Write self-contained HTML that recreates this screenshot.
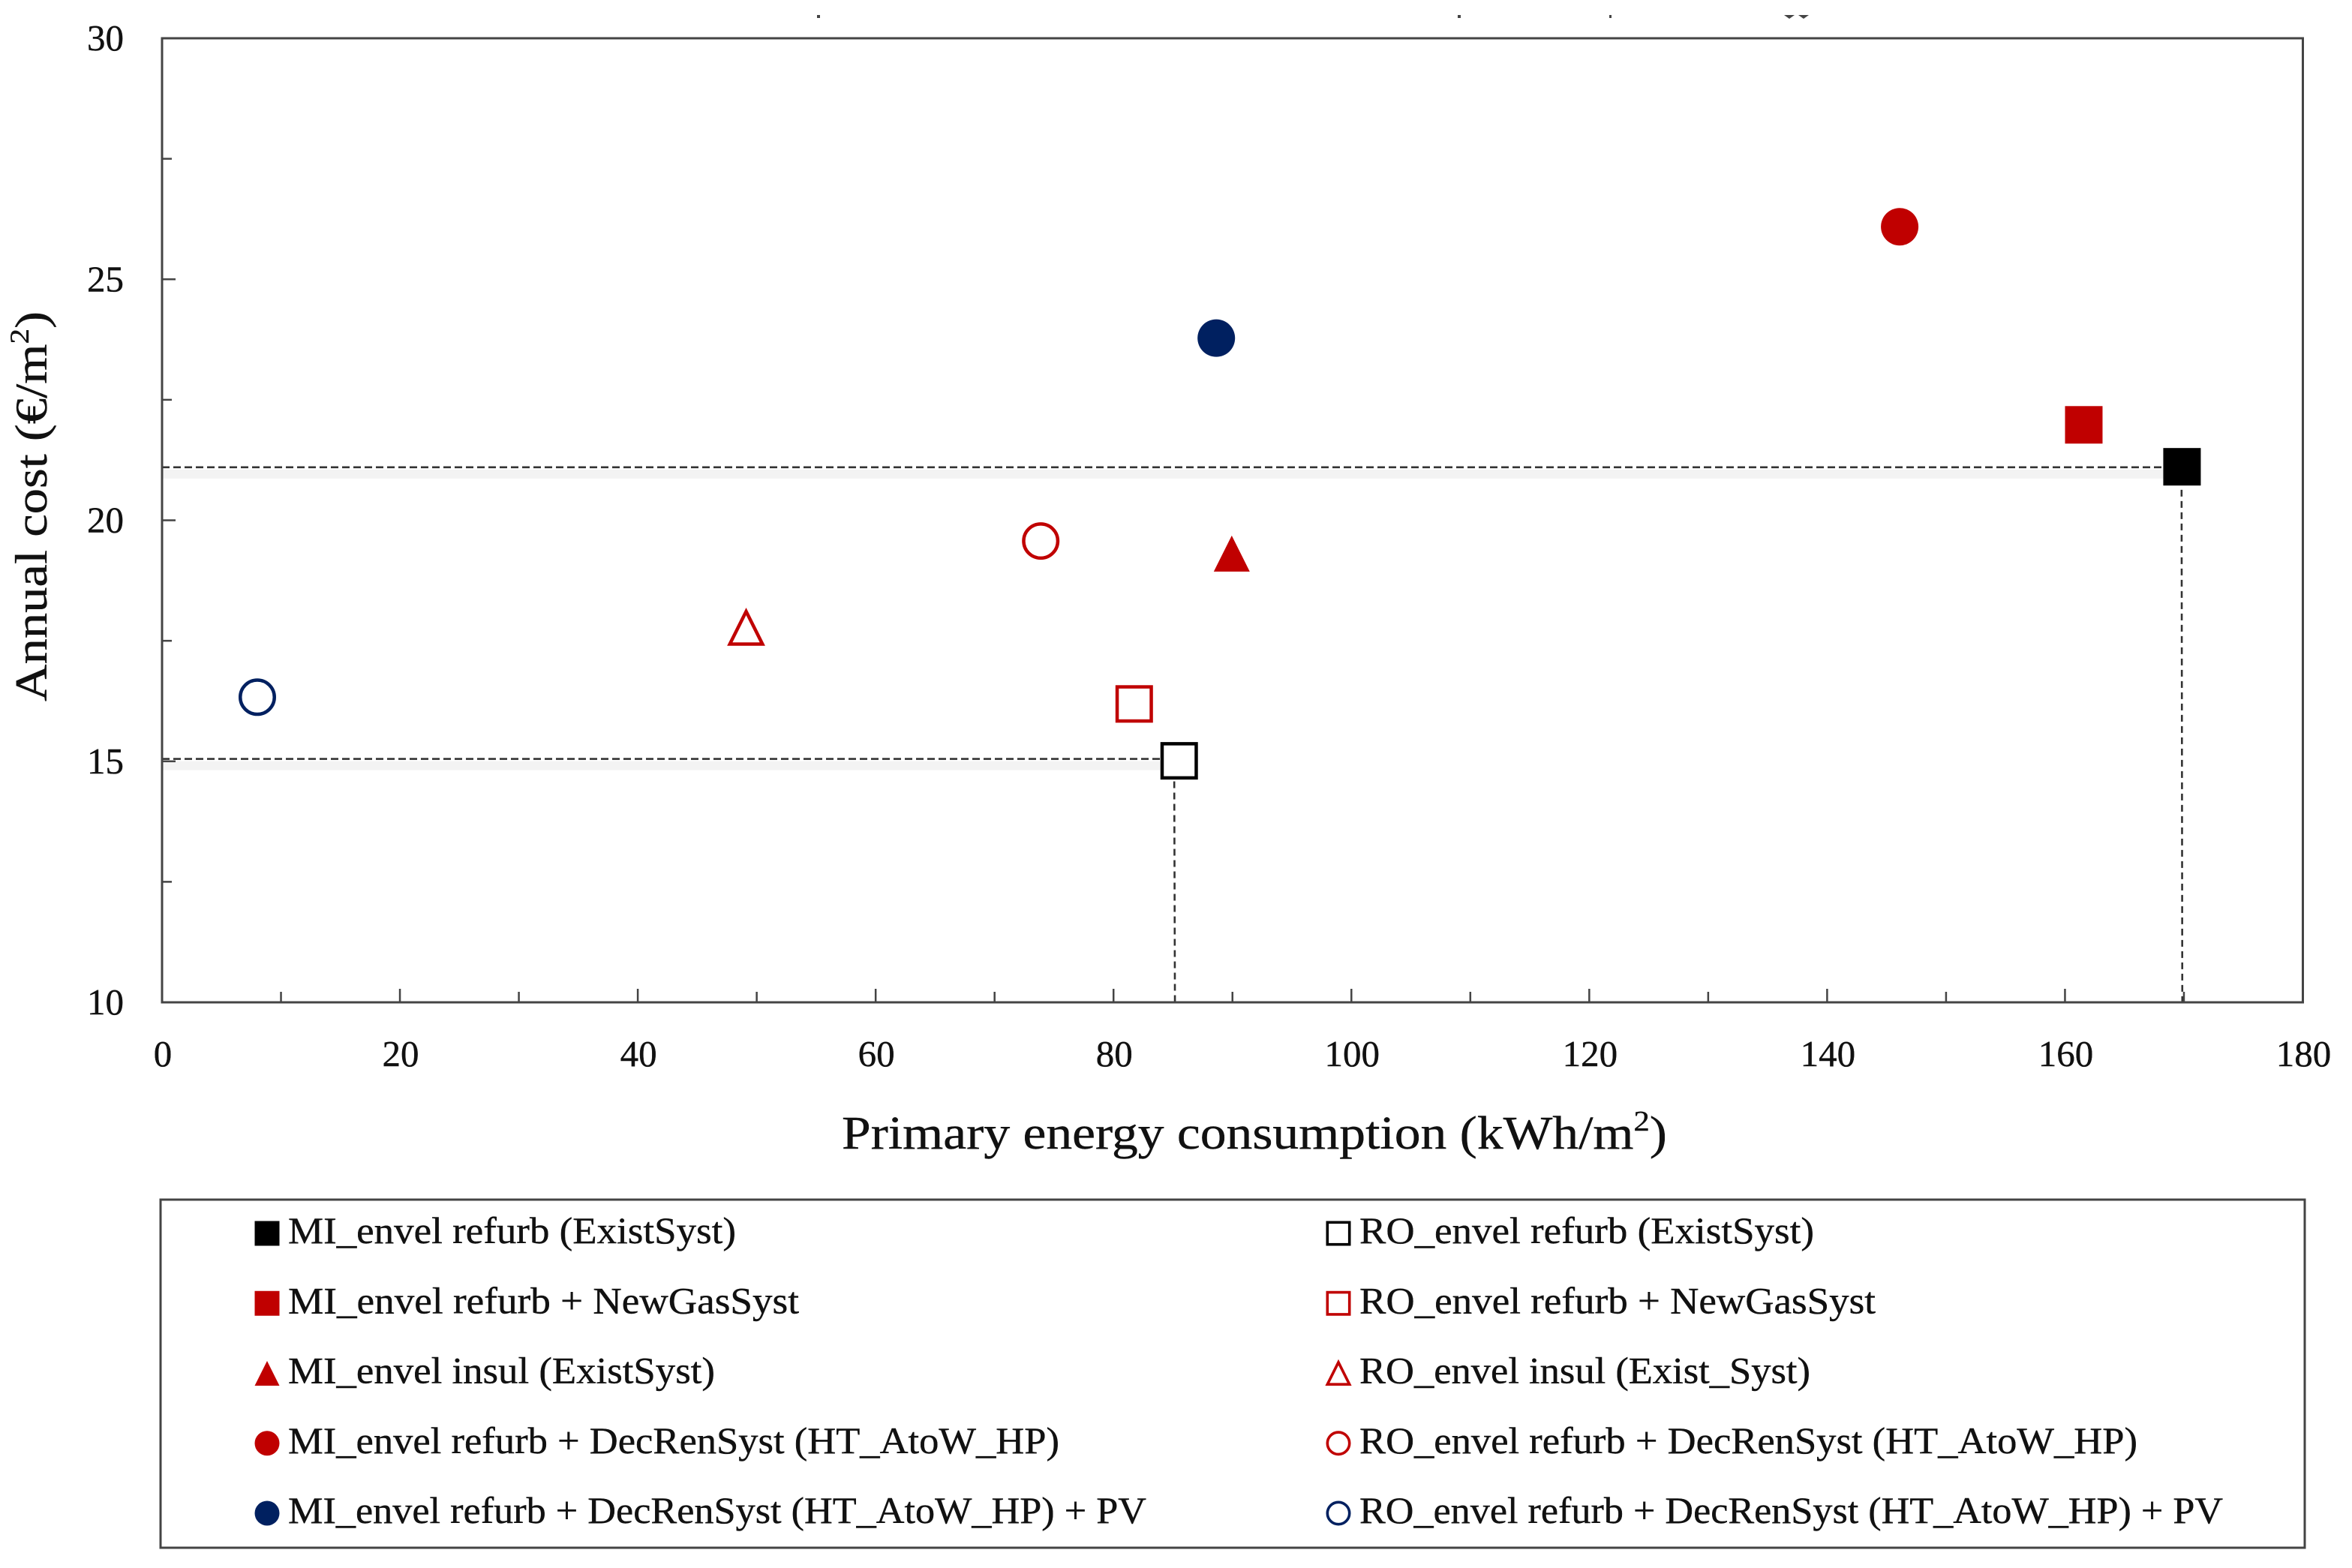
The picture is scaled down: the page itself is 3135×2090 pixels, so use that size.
<!DOCTYPE html>
<html lang="en">
<head>
<meta charset="utf-8">
<title>Annual cost vs primary energy consumption</title>
<style>
html,body{margin:0;padding:0;background:#fff;width:3135px;height:2090px;overflow:hidden}
svg{display:block}
text{font-family:"Liberation Serif","DejaVu Serif",serif;fill:#111;stroke:#111;stroke-width:0.4}
</style>
</head>
<body>
<svg id="chart" xmlns="http://www.w3.org/2000/svg" width="3135" height="2090" viewBox="0 0 3135 2090">
  <rect x="0" y="0" width="3135" height="2090" fill="#fff"/>
  <g fill="#444">
    <rect x="1089" y="20" width="4" height="4"/>
    <rect x="1943" y="20" width="4" height="4"/>
    <rect x="2145" y="20" width="3" height="4"/>
    <polygon points="2378,20 2392,20 2385,25"/>
    <polygon points="2397,20 2411,20 2404,25"/>
  </g>
  <g id="ref-lines"></g>
  <rect x="216" y="51" width="2853.5" height="1285" fill="none" stroke="#444" stroke-width="3"/>
  <g id="x-axis"></g>
  <g id="y-axis"></g>
  <g id="points"></g>
  <text x="1122" y="1531" font-size="62" textLength="1100" lengthAdjust="spacingAndGlyphs">Primary energy consumption (kWh/m<tspan font-size="38" dy="-24">2</tspan><tspan dy="24">)</tspan></text>
  <text transform="translate(62 935) rotate(-90)" x="0" y="0" font-size="60" textLength="520" lengthAdjust="spacingAndGlyphs">Annual cost (€/m<tspan font-size="36" dy="-24">2</tspan><tspan dy="24">)</tspan></text>
  <g id="legend">
    <rect x="214" y="1599" width="2858" height="464" fill="none" stroke="#444" stroke-width="3"/>
  </g>
</svg>
<script>
// Chart data
const seriesNames = [
  "MI_envel refurb (ExistSyst)",
  "MI_envel refurb + NewGasSyst",
  "MI_envel insul (ExistSyst)",
  "MI_envel refurb + DecRenSyst (HT_AtoW_HP)",
  "MI_envel refurb + DecRenSyst (HT_AtoW_HP) + PV",
  "RO_envel refurb (ExistSyst)",
  "RO_envel refurb + NewGasSyst",
  "RO_envel insul (Exist_Syst)",
  "RO_envel refurb + DecRenSyst (HT_AtoW_HP)",
  "RO_envel refurb + DecRenSyst (HT_AtoW_HP) + PV"
];
const energyValues = [169.84, 161.58, 89.94, 146.1, 88.64, 85.52, 81.74, 49.11, 73.88, 8.01];
const costValues = [21.11, 21.98, 19.31, 26.09, 23.78, 15.01, 16.19, 17.77, 19.57, 16.33];
const refEnergyValues = [169.8, 85.1];
const refCostValues = [21.1, 15.05];
const xTickLabels = [0, 20, 40, 60, 80, 100, 120, 140, 160, 180];
const xMinorTicks = [10, 30, 50, 70, 90, 110, 130, 150, 170];
const yTickLabels = [10, 15, 20, 25, 30];
const yMinorTicks = [12.5, 17.5, 22.5, 27.5];

// Presentation, kept apart from the data
const seriesShapes = ["square", "square", "triangle", "circle", "circle", "square", "square", "triangle", "circle", "circle"];
const seriesColors = ["#000000", "#c00000", "#c00000", "#c00000", "#002060", "#000000", "#c00000", "#c00000", "#c00000", "#002060"];
const seriesFilled = [true, true, true, true, true, false, false, false, false, false];
const legendTextWidths = [597, 681, 569, 1028, 1144, 606, 688, 601, 1037, 1151];

const SVGNS = "http://www.w3.org/2000/svg";
const plot = { left: 216, right: 3069.5, top: 51, bottom: 1336 };
const xScale = v => plot.left + (v - 0) / 180 * (plot.right - plot.left);
const yScale = v => plot.bottom - (v - 10) / 20 * (plot.bottom - plot.top);

function make(tag, parent, props) {
  const el = document.createElementNS(SVGNS, tag);
  for (const k in props) el.setAttribute(k, props[k]);
  parent.appendChild(el);
  return el;
}

function drawMarker(parent, shape, color, filled, cx, cy, size, strokeWidth) {
  const sw = filled ? 0 : strokeWidth;
  const h = (size - sw) / 2;
  const style = { fill: filled ? color : "#fff", stroke: filled ? "none" : color, "stroke-width": sw };
  if (shape === "square") {
    return make("rect", parent, Object.assign({ x: cx - h, y: cy - h, width: 2 * h, height: 2 * h }, style));
  }
  if (shape === "circle") {
    return make("circle", parent, Object.assign({ cx: cx, cy: cy, r: h }, style));
  }
  return make("polygon", parent, Object.assign({
    points: (cx) + "," + (cy - h) + " " + (cx + h) + "," + (cy + h) + " " + (cx - h) + "," + (cy + h),
    "stroke-linejoin": "miter"
  }, style));
}

// X axis
const xAxis = document.getElementById("x-axis");
xTickLabels.forEach(v => {
  const t = make("line", xAxis, { x1: xScale(v), x2: xScale(v), y1: plot.bottom, y2: plot.bottom - 18, stroke: "#444", "stroke-width": 2.5 });
  
  
  const l = make("text", xAxis, { x: xScale(v) + 1, y: 1421, "font-size": 49, "text-anchor": "middle" });
  
  
  l.textContent = v;
});
xMinorTicks.forEach(v => {
  const t = make("line", xAxis, { x1: xScale(v), x2: xScale(v), y1: plot.bottom, y2: plot.bottom - 14, stroke: "#444", "stroke-width": 2.5 });
  
  
});

// Y axis
const yAxis = document.getElementById("y-axis");
yTickLabels.forEach(v => {
  const t = make("line", yAxis, { x1: plot.left, x2: plot.left + 18, y1: yScale(v), y2: yScale(v), stroke: "#444", "stroke-width": 2.5 });
  
  
  const l = make("text", yAxis, { x: 165, y: yScale(v) + 16, "font-size": 49, "text-anchor": "end" });
  
  
  l.textContent = v;
});
yMinorTicks.forEach(v => {
  const t = make("line", yAxis, { x1: plot.left, x2: plot.left + 13, y1: yScale(v), y2: yScale(v), stroke: "#444", "stroke-width": 2.5 });
  
  
});

// Reference lines
const refGroup = document.getElementById("ref-lines");
refCostValues.forEach((c, i) => {
  const e = refEnergyValues[i];
  const shade = make("line", refGroup, { x1: plot.left, x2: xScale(e), y1: yScale(c) + 9, y2: yScale(c) + 9, stroke: "#f3f3f3", "stroke-width": 12 });
  
  
  const h = make("line", refGroup, { x1: plot.left, x2: xScale(e), y1: yScale(c), y2: yScale(c), stroke: "#333", "stroke-width": 2.6, "stroke-dasharray": "10 5" });
  
  
  const v = make("line", refGroup, { x1: xScale(e), x2: xScale(e) + 1, y1: yScale(c), y2: plot.bottom, stroke: "#333", "stroke-width": 2.6, "stroke-dasharray": "9 6" });
  
  
});

// Points
const pointGroup = document.getElementById("points");
seriesNames.forEach((name, i) => {
  const m = drawMarker(pointGroup, seriesShapes[i], seriesColors[i], seriesFilled[i], xScale(energyValues[i]), yScale(costValues[i]), seriesShapes[i] === "triangle" ? 48 : 50, 4.5);
  
  
});

// Legend
const legend = document.getElementById("legend");
seriesNames.forEach((name, i) => {
  const col = i < 5 ? 0 : 1;
  const row = i % 5;
  const markerX = col === 0 ? 356 : 1784;
  const textX = col === 0 ? 384 : 1812;
  const baseline = 1657 + row * 93.25;
  const entry = make("g", legend, {});
  
  
  const mk = drawMarker(entry, seriesShapes[i], seriesColors[i], seriesFilled[i], markerX, baseline - 13, 33, 3.6);
  
  
  const tx = make("text", entry, { x: textX, y: baseline, "font-size": 50, textLength: legendTextWidths[i], lengthAdjust: "spacingAndGlyphs" });
  
  
  tx.textContent = name;
});
</script>
</body>
</html>
